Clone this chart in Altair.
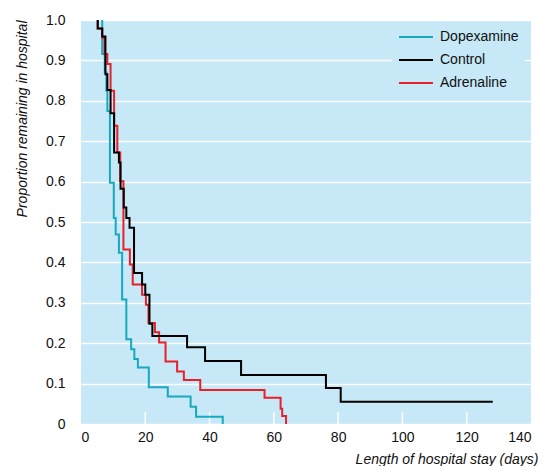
import altair as alt
import pandas as pd

series_names = ["Dopexamine", "Control", "Adrenaline"]
series_colors = ["#19a9bf", "#000000", "#e8202a"]

# Kaplan-Meier step points (days, proportion remaining)
dop_t = [6.6, 6.6, 7.4, 7.9, 8.2, 9.0, 10.2, 10.8, 11.8, 12.8, 14.1, 15.6, 16.6, 17.7, 21.1, 27.0, 34.1, 35.8, 44.1]
dop_s = [1.0, 0.916, 0.87, 0.825, 0.775, 0.597, 0.510, 0.469, 0.424, 0.308, 0.210, 0.185, 0.161, 0.140, 0.091, 0.068, 0.043, 0.018, 0.0]

ctl_t = [5.2, 5.2, 6.6, 7.6, 8.2, 9.2, 10.3, 11.8, 12.3, 13.3, 14.1, 15.1, 16.5, 19.0, 20.0, 21.3, 22.2, 33.0, 38.6, 49.8, 76.2, 80.8, 128.1]
ctl_s = [1.0, 0.979, 0.959, 0.866, 0.827, 0.769, 0.672, 0.647, 0.582, 0.536, 0.510, 0.486, 0.374, 0.345, 0.320, 0.248, 0.218, 0.190, 0.156, 0.121, 0.089, 0.055, 0.055]

adr_t = [5.2, 5.2, 6.6, 7.3, 8.2, 9.2, 10.3, 11.3, 12.2, 13.2, 15.2, 16.1, 19.0, 20.2, 21.0, 23.0, 24.3, 26.3, 29.9, 32.0, 37.1, 57.1, 62.1, 62.6, 63.8]
adr_s = [1.0, 0.979, 0.956, 0.916, 0.891, 0.825, 0.738, 0.672, 0.601, 0.432, 0.395, 0.345, 0.320, 0.295, 0.250, 0.227, 0.202, 0.155, 0.130, 0.109, 0.084, 0.065, 0.038, 0.020, 0.0]

x_ticks = [0, 20, 40, 60, 80, 100, 120, 140]
inner_ticks = [20, 40, 60, 80, 100, 120]
y_ticks = [0, 0.1, 0.2, 0.3, 0.4, 0.5, 0.6, 0.7, 0.8, 0.9, 1.0]

rows = []
for name, ts, ss in [("Dopexamine", dop_t, dop_s), ("Control", ctl_t, ctl_s), ("Adrenaline", adr_t, adr_s)]:
    for i, (t, s) in enumerate(zip(ts, ss)):
        rows.append({"group": name, "t": t, "s": s, "i": i})
df = pd.DataFrame(rows)

W, H = 450, 404
BG = "#c6e8f7"
FONT = "Liberation Sans"

x_enc = alt.X(
    "t:Q",
    scale=alt.Scale(domain=[0, 140], nice=False),
    axis=alt.Axis(
        values=x_ticks, grid=False, ticks=False, domain=False,
        labelPadding=6, labelFontSize=14, labelColor="#111",
        title="Length of hospital stay (days)", titleFontSize=14,
        titleFontStyle="italic", titleFontWeight="normal", titleColor="#111",
        titleAnchor="end", titleAlign="right", titleX=457, titleY=39,
        titleBaseline="alphabetic",
    ),
)
y_enc = alt.Y(
    "s:Q",
    scale=alt.Scale(domain=[0, 1], nice=False),
    axis=alt.Axis(
        values=y_ticks,
        labelExpr="datum.value == 0 ? '0' : format(datum.value, '.1f')",
        grid=True, gridColor="white", gridWidth=1.5, gridOpacity=1,
        ticks=False, domain=False, labelPadding=16, labelFontSize=14, labelColor="#111",
        title="Proportion remaining in hospital", titleFontSize=14,
        titleFontStyle="italic", titleFontWeight="normal", titleColor="#111",
        titleAngle=270, titleX=-59, titleY=0, titleAlign="right", titleBaseline="middle",
    ),
)
color_enc = alt.Color(
    "group:N",
    scale=alt.Scale(domain=series_names, range=series_colors),
    legend=alt.Legend(
        title=None, orient="none", legendX=311, legendY=5, fillColor=BG,
        padding=6, symbolType="stroke", symbolSize=1156, symbolStrokeWidth=2,
        clipHeight=12, labelFontSize=14, labelOffset=6, rowPadding=9, labelColor="#111",
    ),
)

ticks_layer = alt.Chart(pd.DataFrame({"t": inner_ticks})).mark_rule(
    color="white", strokeWidth=1.5
).encode(x=alt.X("t:Q"), y=alt.value(H), y2=alt.value(H - 12))


def series_layer(name):
    return (
        alt.Chart(df)
        .transform_filter(alt.datum.group == name)
        .mark_line(interpolate="step-after", strokeWidth=2)
        .encode(x=x_enc, y=y_enc, color=color_enc, order=alt.Order("i:Q"))
    )


chart = (
    alt.layer(ticks_layer, series_layer("Dopexamine"), series_layer("Adrenaline"), series_layer("Control"))
    .properties(
        width=W, height=H,
        autosize=alt.AutoSizeParams(type="none"),
        padding={"left": 73, "top": 12, "right": 8, "bottom": 42},
        background="white",
    )
    .configure(font=FONT)
    .configure_view(fill=BG, stroke=None)
)

chart.save("out.html", embed_options={"renderer": "svg", "actions": False})
